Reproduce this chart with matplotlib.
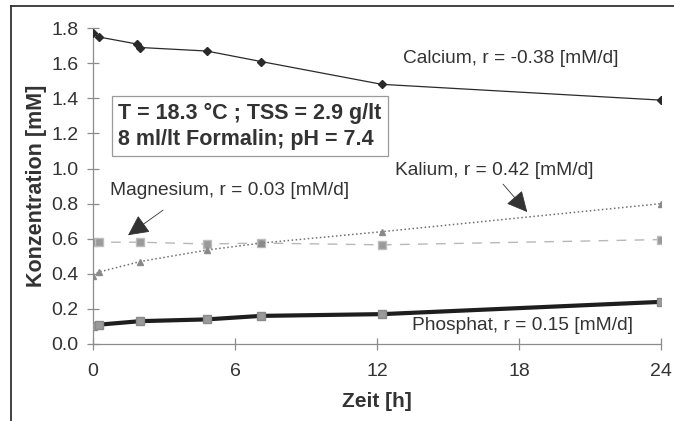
import matplotlib.pyplot as plt
from matplotlib.lines import Line2D

plt.rcParams['font.family'] = ['Liberation Sans', 'DejaVu Sans']

# Messzeitpunkte [h]
t_ca = [0, 0.25, 1.85, 2.0, 4.8, 7.1, 12.2, 24]
t = [0, 0.25, 2.0, 4.8, 7.1, 12.2, 24]

# Konzentrationen [mM]
calcium = [1.77, 1.75, 1.71, 1.69, 1.67, 1.61, 1.48, 1.39]
kalium = [0.39, 0.41, 0.47, 0.535, 0.575, 0.64, 0.80]
magnesium = [0.58, 0.58, 0.58, 0.57, 0.575, 0.565, 0.595]
phosphat = [0.10, 0.11, 0.13, 0.14, 0.16, 0.17, 0.24]

fig = plt.figure(figsize=(6.74, 4.21), dpi=100)
ax = fig.add_axes([0.138, 0.183, 0.843, 0.75])

ax.plot(t, magnesium, color='#b8b8b8', lw=1, dashes=(7, 6),
        marker='s', ms=6, mfc='#9a9a9a', mec='#bdbdbd', zorder=2)
ax.plot(t, kalium, color='#707070', lw=1.1, ls=':',
        marker='^', ms=5, mfc='#8a8a8a', mec='#8a8a8a', zorder=3)
ax.plot(t, phosphat, color='#1e1e1e', lw=3,
        marker='s', ms=6, mfc='#9a9a9a', mec='#8a8a8a', zorder=4)
ax.plot(t_ca, calcium, color='#2a2a2a', lw=0.9,
        marker='D', ms=4, mfc='#2a2a2a', mec='#2a2a2a', zorder=4)

ax.set_xlim(0, 24)
ax.set_ylim(0, 1.8)
ax.set_xticks([0, 6, 12, 18, 24])
ax.set_yticks([0.0, 0.2, 0.4, 0.6, 0.8, 1.0, 1.2, 1.4, 1.6, 1.8])
ax.set_yticklabels([f'{v:.1f}' for v in ax.get_yticks()])

for side in ['top', 'right']:
    ax.spines[side].set_visible(False)
for side in ['left', 'bottom']:
    ax.spines[side].set_color('#8c8c8c')
    ax.spines[side].set_linewidth(0.9)
ax.tick_params(direction='inout', length=9, width=0.9, color='#8c8c8c',
               labelsize=14, labelcolor='#333333')
ax.tick_params(axis='x', pad=9)
ax.tick_params(axis='y', pad=6)

ax.set_xlabel('Zeit [h]', fontsize=15, fontweight='bold', color='#333333', labelpad=9)
ax.set_ylabel('Konzentration [mM]', fontsize=15.5, fontweight='bold', color='#333333', labelpad=3)

lab = dict(fontsize=13.8, color='#333333', va='center', ha='left')
ax.text(13.1, 1.63, 'Calcium, r = -0.38 [mM/d]', **lab)
ax.text(12.76, 0.99, 'Kalium, r = 0.42 [mM/d]', **lab)
ax.text(0.72, 0.877, 'Magnesium, r = 0.03 [mM/d]', **lab)
ax.text(13.48, 0.108, 'Phosphat, r = 0.15 [mM/d]', **lab)

arrow = dict(arrowstyle='-|>,head_length=1.3,head_width=0.65', color='#333333',
             lw=0.6, shrinkA=0, shrinkB=0)
ax.annotate('', xy=(1.48, 0.62), xytext=(2.96, 0.763), arrowprops=arrow)
ax.annotate('', xy=(18.34, 0.752), xytext=(17.32, 0.911), arrowprops=arrow)

ax.text(1.06, 1.241, 'T = 18.3 °C ; TSS = 2.9 g/lt\n8 ml/lt Formalin; pH = 7.4',
        fontsize=15.5, fontweight='bold', color='#333333', linespacing=1.3,
        va='center', ha='left',
        bbox=dict(boxstyle='square,pad=0.3', fc='white', ec='#9a9a9a', lw=0.9))

# Rahmen des Diagrammbereichs
fig.add_artist(Line2D([0.016, 0.016], [0.0, 0.986], transform=fig.transFigure,
                      color='#333333', lw=1.3))
fig.add_artist(Line2D([0.016, 1.0], [0.986, 0.986], transform=fig.transFigure,
                      color='#333333', lw=1.3))

fig.savefig('out.png', dpi=100)
